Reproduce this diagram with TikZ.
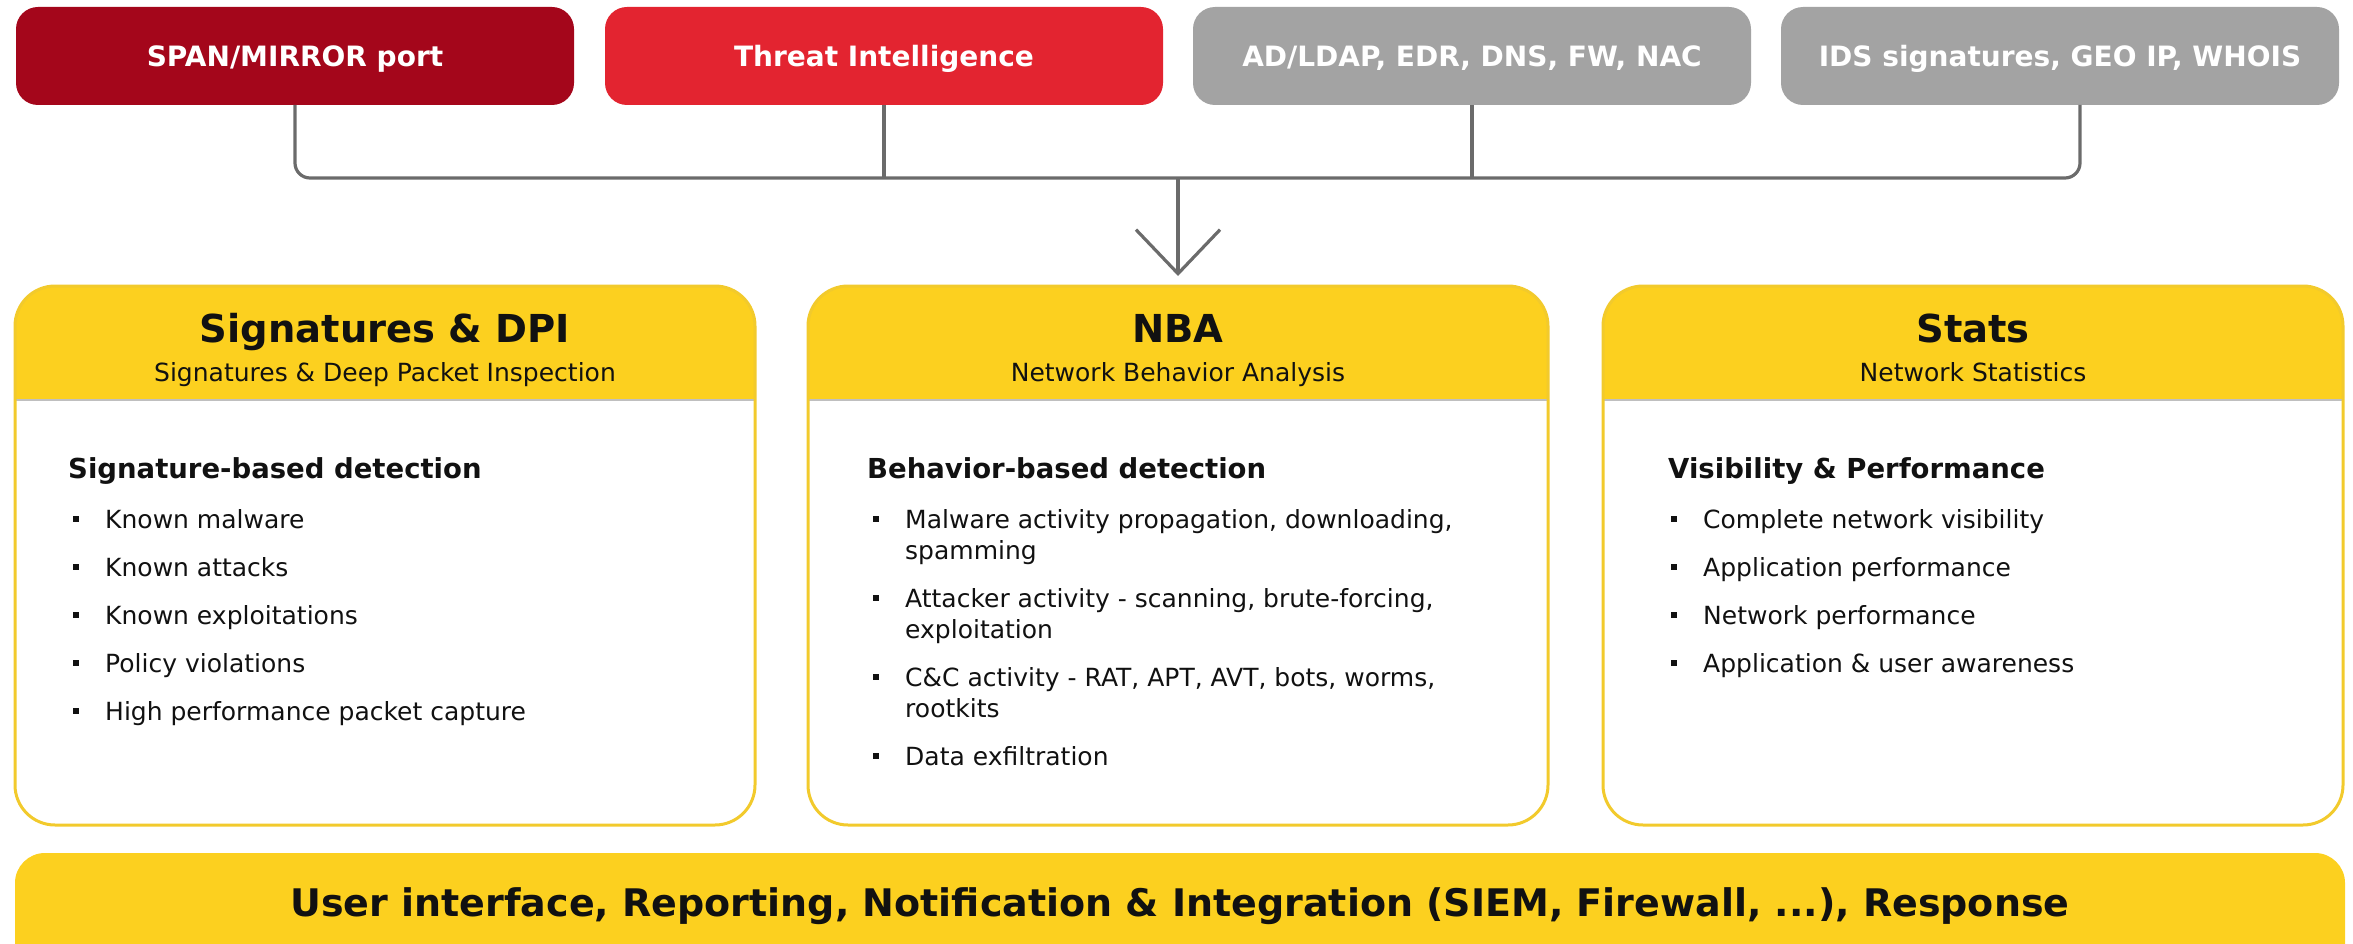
\documentclass[tikz,border=0pt]{standalone}
\usepackage{fontspec}
\setmainfont{DejaVu Sans}
\usetikzlibrary{arrows.meta}

\definecolor{darkred}{HTML}{A4061B}
\definecolor{brightred}{HTML}{E32430}
\definecolor{srcgray}{HTML}{A3A3A3}
\definecolor{wire}{HTML}{6B6B6B}
\definecolor{gold}{HTML}{FCD01F}
\definecolor{goldedge}{HTML}{F2CA2C}
\definecolor{ink}{HTML}{111111}

\tikzset{
  source/.style={rounded corners=22pt, minimum width=558pt, minimum height=98pt,
    inner sep=0pt, outer sep=0pt, text=white, text height=20.4pt, text depth=0pt,
    font=\bfseries\fontsize{28}{32}\selectfont},
  panel/.style={rounded corners=40pt, fill=white, minimum width=740pt,
    minimum height=539pt, inner sep=0pt, outer sep=0pt},
  rim/.style={draw=goldedge, line width=3pt, rounded corners=40pt},
  paneltitle/.style={anchor=base, inner sep=0pt, text=ink,
    font=\bfseries\fontsize{38.5}{44}\selectfont},
  panelsub/.style={anchor=base, inner sep=0pt, text=ink,
    font=\fontsize{25}{30}\selectfont},
  heading/.style={anchor=base west, inner sep=0pt, text=ink,
    font=\bfseries\fontsize{27.5}{32}\selectfont},
  item/.style={anchor=base west, inner sep=0pt, text=ink,
    font=\fontsize{25}{31.5}\selectfont},
  dot/.style={fill=ink, minimum size=6.5pt, inner sep=0pt, outer sep=0pt},
  conn/.style={draw=wire, line width=3.2pt},
  bar/.style={fill=gold, rounded corners=30pt, minimum width=2330pt,
    minimum height=150pt, inner sep=0pt, outer sep=0pt},
  bartext/.style={anchor=base, inner sep=0pt, text=ink,
    font=\bfseries\fontsize{38}{44}\selectfont},
}

\begin{document}
\begin{tikzpicture}[x=1pt, y=-1pt]
\useasboundingbox (0,0) rectangle (2353,944);
\begin{scope}
\clip (0,0) rectangle (2353,944);

% data sources
\node[source, fill=darkred]   (span)   at (295,56)  {SPAN/MIRROR port};
\node[source, fill=brightred] (threat) at (884,56)  {Threat Intelligence};
\node[source, fill=srcgray]   (ad)     at (1472,56) {AD/LDAP, EDR, DNS, FW, NAC};
\node[source, fill=srcgray]   (ids)    at (2060,56) {IDS signatures, GEO IP, WHOIS};

% analysis panels
\node[panel] (sig)   at (385,555.5)  {};
\node[panel] (nba)   at (1178,555.5) {};
\node[panel] (stats) at (1973,555.5) {};

\coordinate (hdr) at (0,400);
\foreach \p in {sig,nba,stats}{
  \begin{scope}
    \clip[rounded corners=40pt] (\p.north west) rectangle (\p.south east);
    \fill[gold] (\p.north west) rectangle (\p.east |- hdr);
  \end{scope}
  \draw[black!25, line width=1.2pt] (\p.west |- hdr) -- (\p.east |- hdr);
  \draw[rim] (\p.north west) rectangle (\p.south east);
}

% collector bus and arrow
\coordinate (bus) at (0,178);
\draw[conn, rounded corners=15pt] (span.south) |- ([xshift=20pt]ids.south |- bus) -- ([xshift=20pt]ids.south);
\draw[conn] (threat.south) -- (threat.south |- bus);
\draw[conn] (ad.south) -- (ad.south |- bus);
\draw[conn, -{Straight Barb[length=44pt, width=84pt]}] (nba.north |- bus) -- ([yshift=10pt]nba.north);

% panel headers
\node[paneltitle] (sigt)   at (385,342)  {Signatures \& DPI};
\node[panelsub]   (sigs)   at (385,381)  {Signatures \& Deep Packet Inspection};
\node[paneltitle] (nbat)   at (1178,342) {NBA};
\node[panelsub]   (nbas)   at (1178,381) {Network Behavior Analysis};
\node[paneltitle] (statst) at (1973,342) {Stats};
\node[panelsub]   (statss) at (1973,381) {Network Statistics};

% signature-based detection
\node[heading] (sigh) at (68,478) {Signature-based detection};
\foreach \y/\t [count=\i] in {528/Known malware, 576/Known attacks, 624/Known exploitations,
    672/Policy violations, 720/High performance packet capture}{
  \node[dot] (sigb\i) at (76,\y-9) {};
  \node[item] (sigi\i) at (105,\y) {\t};
}

% behavior-based detection
\node[heading] (nbah) at (867,478) {Behavior-based detection};
\node[dot] (nbab1) at (876,519) {};
\node[item] (nbai1) at (905,528) {Malware activity propagation, downloading,};
\node[item] (nbai1b) at (905,559.5) {spamming};
\node[dot] (nbab2) at (876,598) {};
\node[item] (nbai2) at (905,607) {Attacker activity - scanning, brute-forcing,};
\node[item] (nbai2b) at (905,638.5) {exploitation};
\node[dot] (nbab3) at (876,677) {};
\node[item] (nbai3) at (905,686) {C\&C activity - RAT, APT, AVT, bots, worms,};
\node[item] (nbai3b) at (905,717.5) {rootkits};
\node[dot] (nbab4) at (876,756) {};
\node[item] (nbai4) at (905,765) {Data exfiltration};

% visibility and performance
\node[heading] (statsh) at (1668,478) {Visibility \& Performance};
\foreach \y/\t [count=\i] in {528/Complete network visibility, 576/Application performance,
    624/Network performance, 672/Application \& user awareness}{
  \node[dot] (statsb\i) at (1674,\y-9) {};
  \node[item] (statsi\i) at (1703,\y) {\t};
}

% output layer
\node[bar] (ui) at (1180,928) {};
\node[bartext] (uit) at (1180,916) {User interface, Reporting, Notification \& Integration (SIEM, Firewall, ...), Response};
\end{scope}
\end{tikzpicture}
\end{document}
